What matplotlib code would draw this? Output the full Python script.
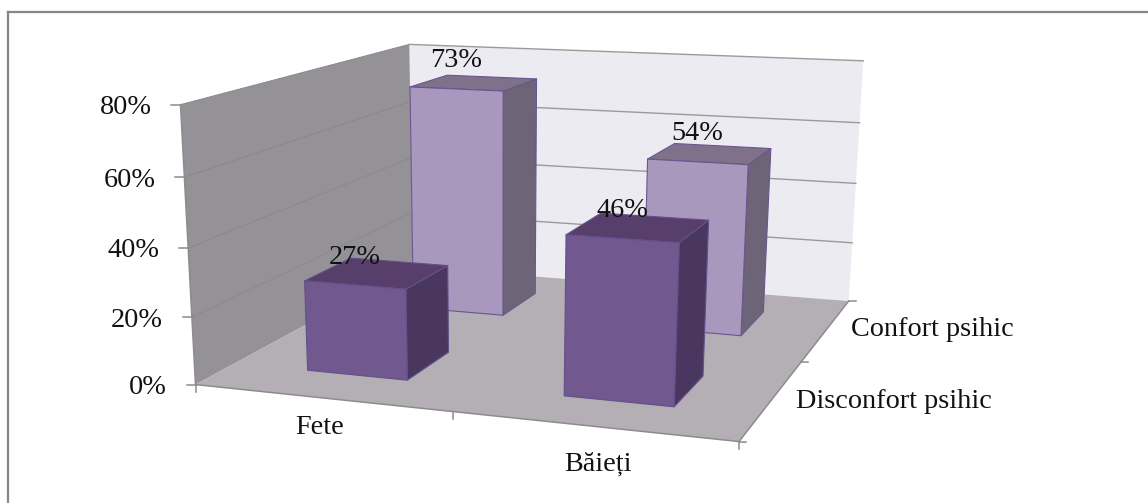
import numpy as np
import matplotlib
matplotlib.use("Agg")
import matplotlib.pyplot as plt
from matplotlib.patches import Polygon

# ---- data ----
categories = ["Fete", "Băieți"]
series_names = ["Disconfort psihic", "Confort psihic"]
disconfort = [27, 46]
confort = [73, 54]
y_ticks = [0, 20, 40, 60, 80]

FONT = "Liberation Serif"
plt.rcParams["font.family"] = [FONT, "DejaVu Serif"]
FS = 20.3

# ---- perspective camera of the plot box, calibrated on its corners ----
world = np.array([[0, 0, 0], [2, 0, 0], [2, 2, 0], [0, 2, 0],
                  [0, 2, 80], [2, 2, 80], [0, 0, 80]], float)
pix = np.array([[196, 382], [739, 444], [849, 298], [412, 270],
                [410, 43], [863, 62], [180, 105]], float)


def fit_camera(w, p):
    rows = []
    for (x, y, z), (u, v) in zip(w, p):
        z, u, v = z / 80, u / 1000, v / 1000
        rows.append([x, y, z, 1, 0, 0, 0, 0, -u * x, -u * y, -u * z, -u])
        rows.append([0, 0, 0, 0, x, y, z, 1, -v * x, -v * y, -v * z, -v])
    return np.linalg.svd(np.array(rows))[2][-1].reshape(3, 4)


CAM = fit_camera(world, pix)


def proj(x, y, z):
    h = CAM @ np.array([x, y, z / 80, 1.0])
    return h[0] / h[2] * 1000, h[1] / h[2] * 1000


fig = plt.figure(figsize=(11.48, 5.03), dpi=100)
ax = fig.add_axes([0, 0, 1, 1])
ax.set_xlim(0, 1148)
ax.set_ylim(503, 0)
ax.axis("off")

# frame of the chart (cropped on the right and at the bottom)
ax.plot([8, 8], [503, 12], color="#868686", lw=1.6, solid_capstyle="projecting")
ax.plot([8, 1148], [12, 12], color="#868686", lw=1.6)


def face(pts, fc, ec="none", lw=0.8, z=1):
    ax.add_patch(Polygon([proj(*p) for p in pts], closed=True, fc=fc, ec=ec,
                         lw=lw, zorder=z, joinstyle="round"))


# walls and floor
face([(0, 2, 0), (2, 2, 0), (2, 2, 80), (0, 2, 80)], "#edebf2", z=1)
face([(0, 0, 0), (0, 2, 0), (0, 2, 80), (0, 0, 80)], "#949296", z=1)
face([(0, 0, 0), (2, 0, 0), (2, 2, 0), (0, 2, 0)], "#b3afb4", z=1)

# gridlines
for t in y_ticks[1:]:
    xs, ys = zip(proj(0, 0, t), proj(0, 2, t))
    ax.plot(xs, ys, color="#8a888c", lw=0.7, zorder=2)
    xs, ys = zip(proj(0, 2, t), proj(2, 2, t))
    ax.plot(xs, ys, color="#9a9a9a", lw=1.0, zorder=2)

# axis lines
AX = "#8c8c8c"
for a, b in [((0, 0, 0), (2, 0, 0)), ((2, 0, 0), (2, 2, 0)), ((0, 0, 0), (0, 0, 80))]:
    xs, ys = zip(proj(*a), proj(*b))
    ax.plot(xs, ys, color=AX, lw=1.1, zorder=3)

# ticks and tick labels
for t in y_ticks:
    u, v = proj(0, 0, t)
    ax.plot([u - 9, u], [v, v], color=AX, lw=1.1, zorder=3)
    ax.text(u - 29, v + 3, f"{t}%", ha="right", va="center", fontsize=FS, color="#111111")
for i in range(3):
    u, v = proj(i, 0, 0)
    ax.plot([u, u], [v, v + 7], color=AX, lw=1.1, zorder=3)
    u, v = proj(2, i, 0)
    ax.plot([u, u + 7], [v, v], color=AX, lw=1.1, zorder=3)

for name, (u, v) in zip(categories, [(320, 428), (598, 464)]):
    ax.text(u, v, name, ha="center", va="center", fontsize=FS, color="#111111")
for name, (u, v) in zip(series_names, [(796, 401), (851, 330)]):
    ax.text(u, v, name, ha="left", va="center", fontsize=FS, color="#111111")

# bars
HALF = 0.2
STYLES = [("#71588f", "#583e6b", "#4a3760", "#64508a"),
          ("#a998bd", "#7e7189", "#6d6478", "#6a5590")]
zo = 4
for s, values in reversed(list(enumerate([disconfort, confort]))):
    front, top, side, edge = STYLES[s]
    for c, val in enumerate(values):
        x0, x1 = c + 0.5 - HALF, c + 0.5 + HALF
        y0, y1 = s + 0.5 - HALF, s + 0.5 + HALF
        face([(x1, y0, 0), (x1, y1, 0), (x1, y1, val), (x1, y0, val)], side, edge, z=zo)
        face([(x0, y0, val), (x1, y0, val), (x1, y1, val), (x0, y1, val)], top, edge, z=zo)
        face([(x0, y0, 0), (x1, y0, 0), (x1, y0, val), (x0, y0, val)], front, edge, z=zo)
        u, v = proj(c + 0.5, y0, val)
        ax.text(u, v - 28, f"{val}%", ha="center", va="center", fontsize=FS,
                color="#111111", zorder=zo)
        zo += 1

fig.savefig("out.png", dpi=100, facecolor="white")
